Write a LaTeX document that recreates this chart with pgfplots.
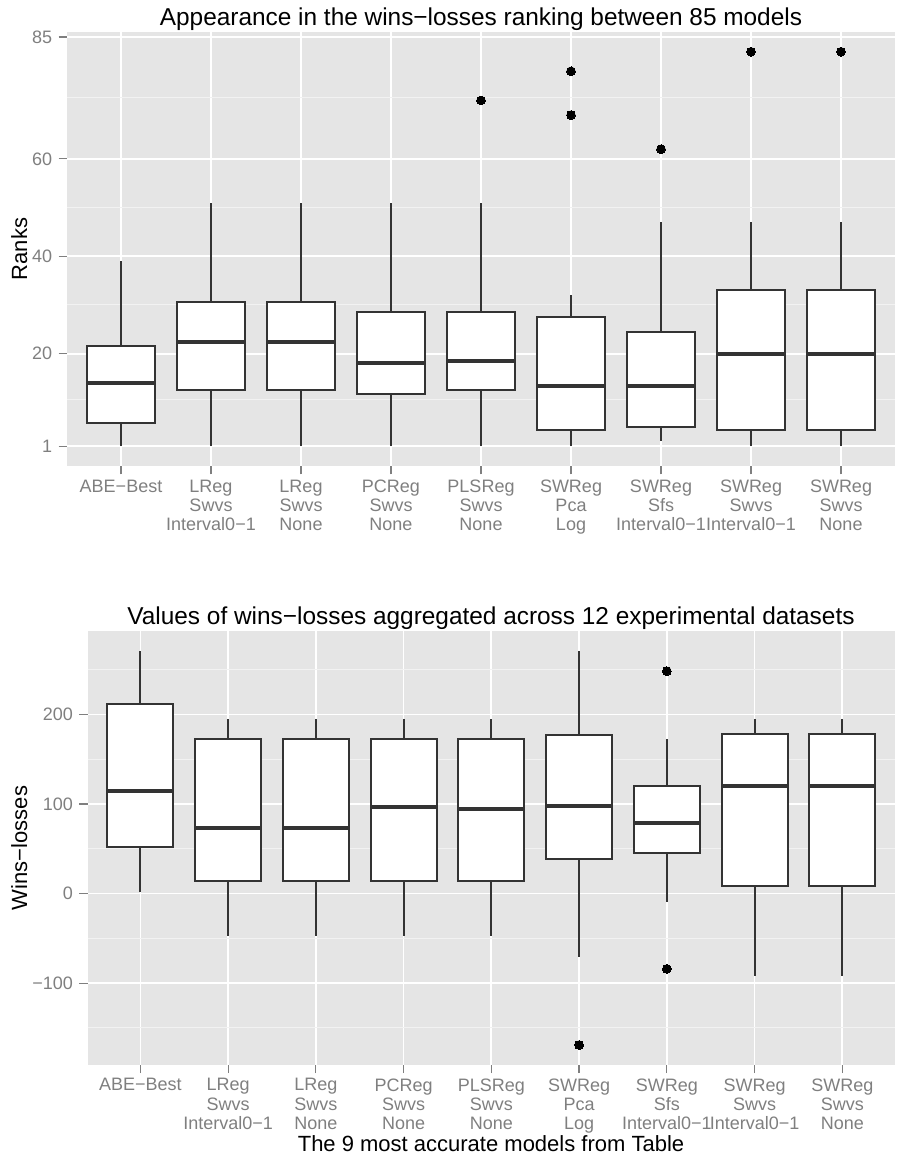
\documentclass[border=0pt]{standalone}
\usepackage{pgfplots}
\pgfplotsset{compat=1.18}
\usepgfplotslibrary{statistics}
\usepackage{fontspec}
\setmainfont{Liberation Sans}
\definecolor{ggbg}{HTML}{E5E5E5}
\definecolor{ggminor}{HTML}{F2F2F2}
\definecolor{ggtick}{HTML}{7F7F7F}
\definecolor{ggline}{HTML}{333333}
\pgfplotsset{
  ggbox/.style={
    scale only axis,
    axis background/.style={fill=ggbg},
    axis line style={draw=none},
    xmin=0.4, xmax=9.6,
    xtick={1,2,3,4,5,6,7,8,9},
    xticklabels={ABE−Best,{LReg\\Swvs\\Interval0−1},{LReg\\Swvs\\None},{PCReg\\Swvs\\None},{PLSReg\\Swvs\\None},{SWReg\\Pca\\Log},{SWReg\\Sfs\\Interval0−1},{SWReg\\Swvs\\Interval0−1},{SWReg\\Swvs\\None}},
    xtick pos=lower, ytick pos=left,
    xmajorgrids, ymajorgrids, yminorgrids,
    major grid style={white, line width=0.85pt},
    minor grid style={ggminor, line width=0.5pt},
    tick align=outside,
    major tick length=4.2pt,
    minor tick length=0pt,
    tick style={ggtick, line width=0.6pt},
    xticklabel style={font=\fontsize{9}{9.6}\selectfont, text=ggtick, align=center, anchor=north, inner sep=0pt, yshift=-2.5pt},
    yticklabel style={font=\fontsize{9}{10}\selectfont, text=ggtick, inner sep=0pt, xshift=-3pt},
    boxplot/draw direction=y,
    boxplot/box extend=0.75,
    boxplot/whisker extend=0,
    boxplot/every median/.style={line width=2pt},
    boxplot/every box/.style={fill=white},
  },
  bx/.style={draw=ggline, line width=1pt, solid, mark=*, mark size=2.2pt, mark options={fill=black, draw=black, line width=0pt}},
}
\begin{document}
\begin{tikzpicture}
\path[use as bounding box] (0,0) rectangle (448pt,579.5pt);
% ---------- top panel ----------
\begin{axis}[ggbox,
  at={(33.5pt,346.5pt)}, anchor=south west,
  width=414pt, height=217pt,
  ymin=-3.05, ymax=86.05,
  ytick={1,20,40,60,85},
  yticklabels={1,20,40,60,85},
  minor ytick={10.5,30,50,72.5},
]
\addplot[bx, boxplot prepared={draw position=1, lower whisker=1, lower quartile=5.7, median=14.0, upper quartile=21.5, upper whisker=39}] coordinates {};
\addplot[bx, boxplot prepared={draw position=2, lower whisker=1, lower quartile=12.5, median=22.5, upper quartile=30.7, upper whisker=51}] coordinates {};
\addplot[bx, boxplot prepared={draw position=3, lower whisker=1, lower quartile=12.5, median=22.5, upper quartile=30.7, upper whisker=51}] coordinates {};
\addplot[bx, boxplot prepared={draw position=4, lower whisker=1, lower quartile=11.8, median=18.0, upper quartile=28.5, upper whisker=51}] coordinates {};
\addplot[bx, boxplot prepared={draw position=5, lower whisker=1, lower quartile=12.5, median=18.5, upper quartile=28.5, upper whisker=51}] table[row sep=\\, y index=0] {data\\ 72\\};
\addplot[bx, boxplot prepared={draw position=6, lower whisker=1, lower quartile=4.3, median=13.4, upper quartile=27.5, upper whisker=32}] table[row sep=\\, y index=0] {data\\ 69\\ 78\\};
\addplot[bx, boxplot prepared={draw position=7, lower whisker=2, lower quartile=5, median=13.4, upper quartile=24.5, upper whisker=47}] table[row sep=\\, y index=0] {data\\ 62\\};
\addplot[bx, boxplot prepared={draw position=8, lower whisker=1, lower quartile=4.3, median=20, upper quartile=33, upper whisker=47}] table[row sep=\\, y index=0] {data\\ 82\\};
\addplot[bx, boxplot prepared={draw position=9, lower whisker=1, lower quartile=4.3, median=20, upper quartile=33, upper whisker=47}] table[row sep=\\, y index=0] {data\\ 82\\};
\end{axis}
% ---------- bottom panel ----------
\begin{axis}[ggbox,
  at={(43.85pt,47.15pt)}, anchor=south west,
  width=403.65pt, height=216.85pt,
  ymin=-191, ymax=293.3,
  ytick={-100,0,100,200},
  yticklabels={−100,0,100,200},
  minor ytick={-150,-50,50,150,250},
]
\addplot[bx, boxplot prepared={draw position=1, lower whisker=2, lower quartile=52.3, median=114.5, upper quartile=212.3, upper whisker=270.6}] coordinates {};
\addplot[bx, boxplot prepared={draw position=2, lower whisker=-47.8, lower quartile=14.6, median=72.8, upper quartile=173.2, upper whisker=195.2}] coordinates {};
\addplot[bx, boxplot prepared={draw position=3, lower whisker=-47.8, lower quartile=14.6, median=72.8, upper quartile=173.2, upper whisker=195.2}] coordinates {};
\addplot[bx, boxplot prepared={draw position=4, lower whisker=-47.8, lower quartile=14.6, median=97, upper quartile=173.2, upper whisker=195.2}] coordinates {};
\addplot[bx, boxplot prepared={draw position=5, lower whisker=-47.8, lower quartile=14.6, median=94.8, upper quartile=173.2, upper whisker=195.2}] coordinates {};
\addplot[bx, boxplot prepared={draw position=6, lower whisker=-70.9, lower quartile=39.2, median=97.4, upper quartile=177.6, upper whisker=271.3}] table[row sep=\\, y index=0] {data\\ -169\\};
\addplot[bx, boxplot prepared={draw position=7, lower whisker=-9.7, lower quartile=45.9, median=78.4, upper quartile=120.5, upper whisker=173.2}] table[row sep=\\, y index=0] {data\\ 248.5\\ -84\\};
\addplot[bx, boxplot prepared={draw position=8, lower whisker=-92.5, lower quartile=8.2, median=120.5, upper quartile=178.3, upper whisker=195.2}] coordinates {};
\addplot[bx, boxplot prepared={draw position=9, lower whisker=-92.5, lower quartile=8.2, median=120.5, upper quartile=178.3, upper whisker=195.2}] coordinates {};
\end{axis}
% ---------- titles and labels ----------
\node[anchor=base, font=\fontsize{12.2}{14}\selectfont] at (240.5pt,566.5pt) {Appearance in the wins−losses ranking between 85 models};
\node[anchor=base, font=\fontsize{12.2}{14}\selectfont] at (245.5pt,267pt) {Values of wins−losses aggregated across 12 experimental datasets};
\node[anchor=base, rotate=90, font=\fontsize{11}{13}\selectfont] at (13.5pt,455pt) {Ranks};
\node[anchor=base, rotate=90, font=\fontsize{11}{13}\selectfont] at (13.5pt,155.5pt) {Wins−losses};
\node[anchor=base, font=\fontsize{11}{13}\selectfont] at (245.5pt,3.65pt) {The 9 most accurate models from Table};
\end{tikzpicture}
\end{document}
